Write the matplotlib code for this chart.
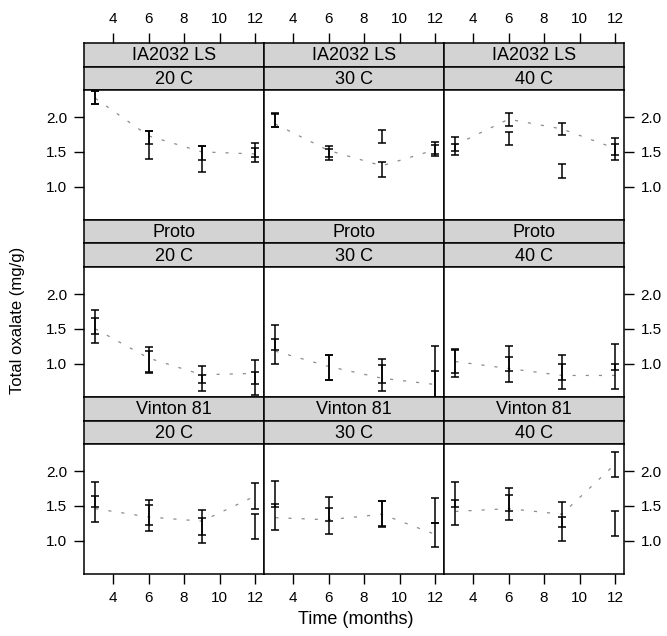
import matplotlib
matplotlib.use("Agg")
import matplotlib.pyplot as plt

plt.rcParams['font.family'] = ['Liberation Sans', 'DejaVu Sans']

# panels: rows = variety, columns = storage temperature
varieties = ["IA2032 LS", "Proto", "Vinton 81"]
temps = ["20 C", "30 C", "40 C"]
times = [3, 6, 9, 12]

# error bars (low, high) for each time point, two bars per time, one list per temperature
ia_bars_1 = [[(2.19, 2.37), (1.40, 1.80), (1.21, 1.58), (1.36, 1.56)],
             [(1.86, 2.06), (1.43, 1.59), (1.63, 1.81), (1.44, 1.64)],
             [(1.46, 1.62), (1.87, 2.06), (1.74, 1.91), (1.39, 1.62)]]
ia_bars_2 = [[(2.19, 2.37), (1.61, 1.80), (1.39, 1.58), (1.43, 1.63)],
             [(1.86, 2.04), (1.38, 1.54), (1.14, 1.35), (1.47, 1.60)],
             [(1.51, 1.72), (1.60, 1.79), (1.13, 1.33), (1.46, 1.70)]]
proto_bars_1 = [[(1.30, 1.66), (0.86, 1.24), (0.60, 0.83), (0.55, 0.88)],
                [(1.00, 1.36), (0.77, 1.13), (0.61, 0.98), (0.40, 1.25)],
                [(0.81, 1.19), (0.74, 1.09), (0.64, 1.00), (0.63, 0.99)]]
proto_bars_2 = [[(1.42, 1.77), (0.88, 1.18), (0.72, 0.97), (0.70, 1.05)],
                [(1.20, 1.56), (0.77, 1.13), (0.72, 1.07), (0.40, 0.89)],
                [(0.87, 1.21), (0.90, 1.25), (0.76, 1.12), (0.91, 1.28)]]
vinton_bars_1 = [[(1.27, 1.64), (1.14, 1.51), (0.96, 1.32), (1.46, 1.83)],
                 [(1.16, 1.52), (1.10, 1.47), (1.20, 1.57), (0.91, 1.26)],
                 [(1.22, 1.58), (1.30, 1.65), (0.99, 1.34), (1.91, 2.27)]]
vinton_bars_2 = [[(1.48, 1.85), (1.22, 1.58), (1.08, 1.44), (1.02, 1.39)],
                 [(1.48, 1.86), (1.28, 1.63), (1.21, 1.57), (1.26, 1.61)],
                 [(1.48, 1.85), (1.42, 1.76), (1.20, 1.56), (1.07, 1.42)]]

# dashed line through the means
ia_line = [[2.27, 1.73, 1.50, 1.47], [1.90, 1.52, 1.30, 1.53], [1.60, 1.97, 1.83, 1.55]]
proto_line = [[1.50, 1.08, 0.84, 0.86], [1.18, 0.96, 0.79, 0.70], [1.03, 0.93, 0.83, 0.83]]
vinton_line = [[1.46, 1.34, 1.28, 1.64], [1.33, 1.30, 1.38, 1.09], [1.42, 1.46, 1.38, 2.10]]

bars_1 = [ia_bars_1, proto_bars_1, vinton_bars_1]
bars_2 = [ia_bars_2, proto_bars_2, vinton_bars_2]
lines = [ia_line, proto_line, vinton_line]

W, H = 667, 636
fig = plt.figure(figsize=(W / 100, H / 100), dpi=100)

left0, colw = 84, 180
top0, striph, panelh = 43, 23.5, 130
rowh = 2 * striph + panelh
strip_col = '#d3d3d3'
tick_kw = dict(labelsize=11, length=7, width=1, pad=5)


def px_axes(x, y, w, h):
    # pixel box (from top-left) -> figure axes
    return fig.add_axes([x / W, 1 - (y + h) / H, w / W, h / H])


for r, var in enumerate(varieties):
    for c, temp in enumerate(temps):
        x = left0 + c * colw
        y = top0 + r * rowh
        for k, txt in enumerate([var, temp]):
            sa = px_axes(x, y + k * striph, colw, striph)
            sa.set_facecolor(strip_col)
            sa.set_xticks([])
            sa.set_yticks([])
            for sp in sa.spines.values():
                sp.set_linewidth(1.1)
            sa.text(0.5, 0.45, txt, ha='center', va='center', fontsize=13,
                    transform=sa.transAxes)

        ax = px_axes(x, y + 2 * striph, colw, panelh)
        ax.plot(times, lines[r][c], color='#8c8c8c', lw=0.9,
                linestyle=(0, (2.5, 8)))
        for bars in (bars_1[r][c], bars_2[r][c]):
            mid = [(a + b) / 2 for a, b in bars]
            err = [(b - a) / 2 for a, b in bars]
            ax.errorbar(times, mid, yerr=err, fmt='none', ecolor='black',
                        elinewidth=1.1, capsize=3.2, capthick=1.1)
        ax.set_xlim(2.36, 12.5)
        ax.set_ylim(0.52, 2.39)
        for sp in ax.spines.values():
            sp.set_linewidth(1.1)

        ax.set_xticks([4, 6, 8, 10, 12])
        ax.set_yticks([1.0, 1.5, 2.0])
        ax.set_yticklabels(['1.0', '1.5', '2.0'])
        ax.tick_params(bottom=False, top=False, left=False, right=False,
                       labelbottom=False, labeltop=False,
                       labelleft=False, labelright=False, **tick_kw)
        if r == len(varieties) - 1:
            ax.tick_params(bottom=True, labelbottom=True)
        if r == 0:
            # top axis sits above the strips
            tx = ax.secondary_xaxis(1 + 2 * striph / panelh)
            tx.set_xticks([4, 6, 8, 10, 12])
            tx.spines['top'].set_visible(False)
            tx.tick_params(**tick_kw)
        if c == 0:
            ax.tick_params(left=True, labelleft=True)
        if c == len(temps) - 1:
            ax.tick_params(right=True, labelright=True)

fig.text(18 / W, 1 - 320 / H, 'Total oxalate (mg/g)', rotation=90,
         ha='center', va='center', fontsize=12)
fig.text(356 / W, 1 - 620 / H, 'Time (months)', ha='center', va='center',
         fontsize=13)

fig.savefig('out.png', dpi=100)
